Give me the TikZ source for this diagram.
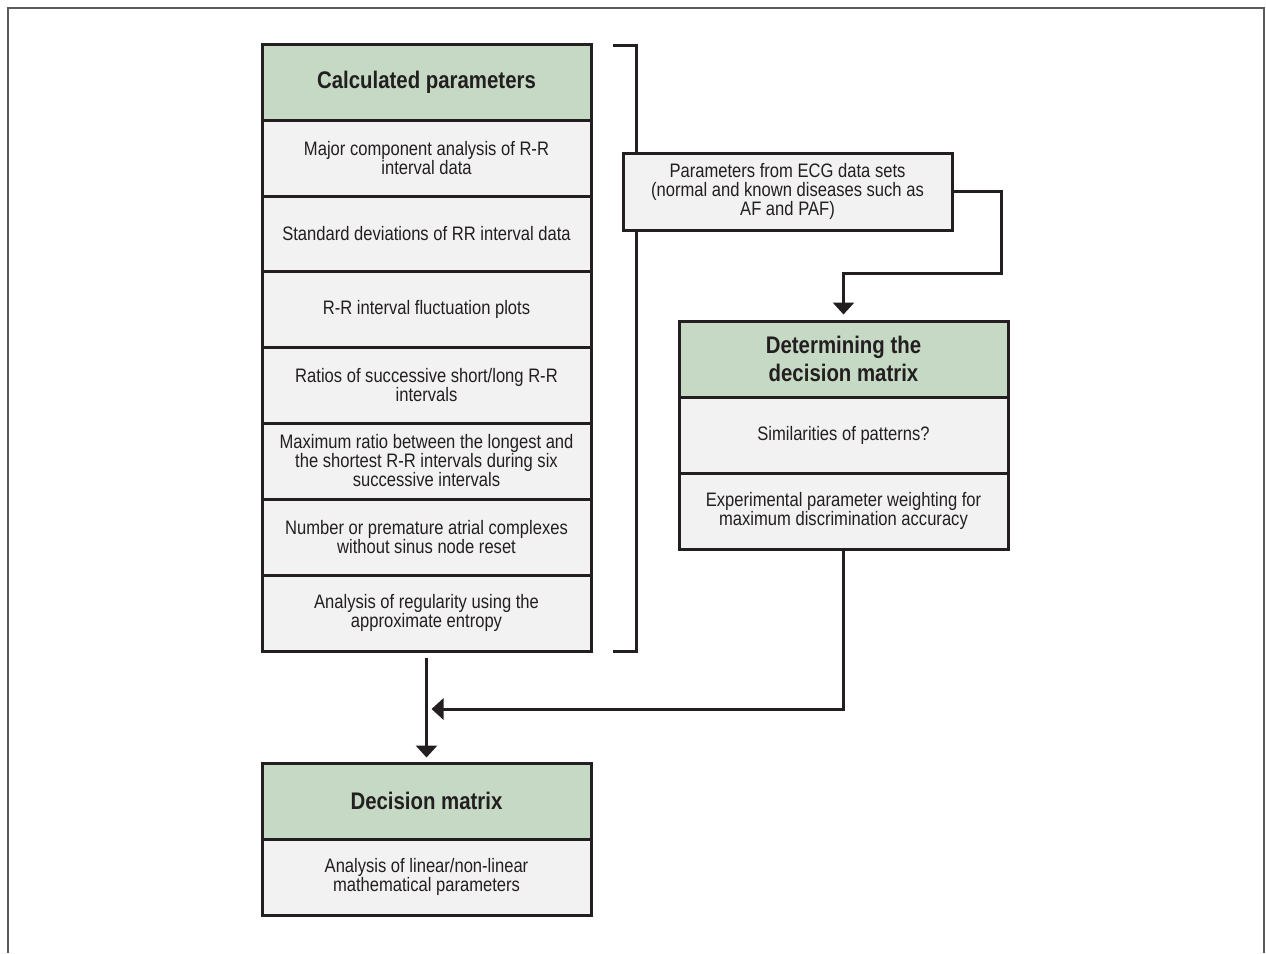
\documentclass[tikz,border=0pt]{standalone}
\usepackage{fontspec}
\setmainfont{Liberation Sans}[FakeStretch=0.85]
\usetikzlibrary{arrows.meta,calc}
\definecolor{hdrgreen}{RGB}{197,217,197}
\definecolor{rowgray}{RGB}{242,242,242}
\definecolor{ink}{RGB}{35,31,32}
\definecolor{framegray}{RGB}{90,90,90}
\begin{document}
\begin{tikzpicture}[x=1pt,y=-1pt,
  cellbox/.style={rectangle,draw=ink,line width=3pt,fill=rowgray,text=ink,
    minimum width=329pt,minimum height=76pt,inner sep=0pt,align=center,
    font=\fontsize{19.5}{19}\selectfont},
  headbox/.style={cellbox,fill=hdrgreen,font=\fontsize{24}{28}\selectfont\bfseries},
  conn/.style={draw=ink,line width=3pt},
  tip/.style={-{Triangle[width=21pt,length=12pt]}}
]
\useasboundingbox (0,0) rectangle (1266,953);
% outer frame
\draw[framegray,line width=1.5pt] (8,953) -- (8,8) -- (1264,8) -- (1264,953);

% bracket
\coordinate (bt1) at (613,45);
\coordinate (bt2) at (636,45);
\coordinate (bb2) at (636,651);
\coordinate (bb1) at (613,651);
\draw[conn] (bt1) -- (bt2) -- (bb2) -- (bb1);

% left column
\node[headbox] (c0) at (426.5,82) {Calculated parameters};
\node[cellbox] (c1) at (426.5,158) {Major component analysis of R-R\\interval data};
\node[cellbox] (c2) at (426.5,234) {Standard deviations of RR interval data};
\node[cellbox] (c3) at (426.5,309) {R-R interval fluctuation plots};
\node[cellbox] (c4) at (426.5,385) {Ratios of successive short/long R-R\\intervals};
\node[cellbox] (c5) at (426.5,461) {Maximum ratio between the longest and\\the shortest R-R intervals during six\\successive intervals};
\node[cellbox] (c6) at (426.5,537) {Number or premature atrial complexes\\without sinus node reset};
\node[cellbox] (c7) at (426.5,613) {Analysis of regularity using the\\approximate entropy};

% ECG box
\node[cellbox,minimum height=77pt] (ecg) at (787.5,191.5) {Parameters from ECG data sets\\(normal and known diseases such as\\AF and PAF)};

% determining box
\node[headbox] (d0) at (843.5,359) {Determining the\\decision matrix};
\node[cellbox] (d1) at (843.5,435) {Similarities of patterns?};
\node[cellbox] (d2) at (843.5,511) {Experimental parameter weighting for\\maximum discrimination accuracy};

% decision matrix
\node[headbox] (m0) at (426.5,801) {Decision matrix};
\node[cellbox] (m1) at (426.5,877) {Analysis of linear/non-linear\\mathematical parameters};

% connectors
\coordinate (k1) at (1001,273);
\coordinate (jn) at (426.5,709);
\draw[conn,tip,shorten >=5pt] (ecg.east) -| (k1) -| (d0.north);
\draw[conn,tip,shorten >=4pt,shorten <=5pt] (c7.south) -- (m0.north);
\draw[conn,tip,shorten >=5pt] (d2.south) |- (jn);
\end{tikzpicture}
\end{document}
